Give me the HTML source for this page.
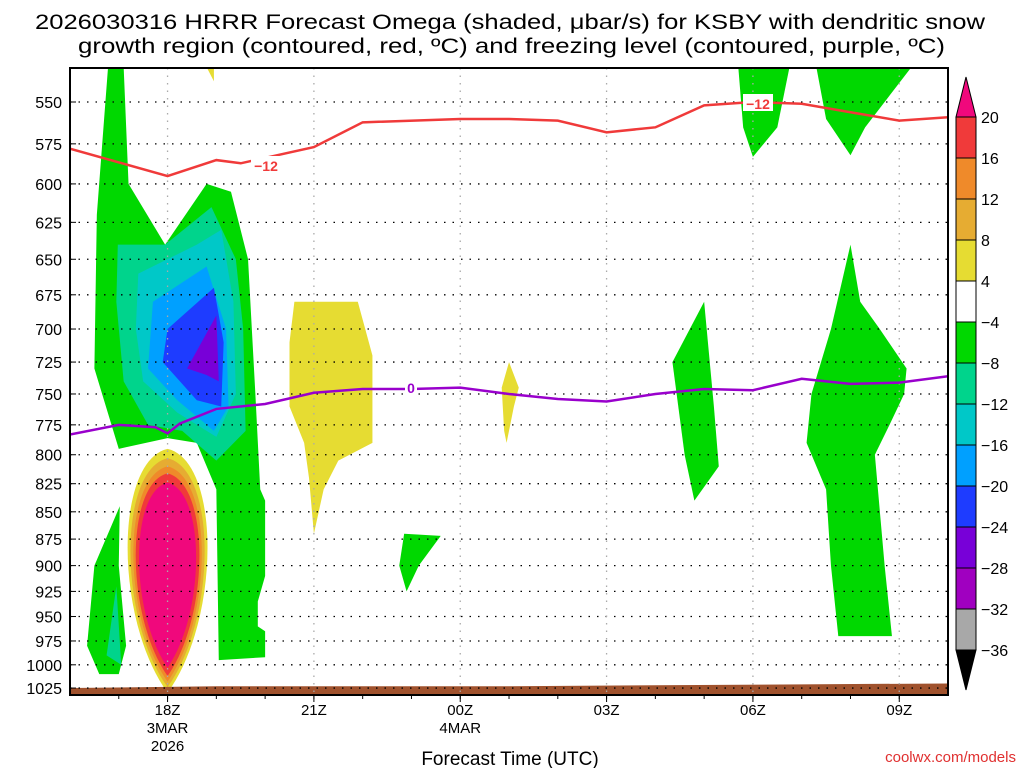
<!DOCTYPE html>
<html><head><meta charset="utf-8"><style>
body{margin:0;background:#fff;}
svg{display:block;font-family:"Liberation Sans",sans-serif;}
</style></head><body>
<svg id="c" width="1024" height="768" xmlns="http://www.w3.org/2000/svg">
<text x="35" y="29" textLength="950" lengthAdjust="spacingAndGlyphs" font-size="21">2026030316 HRRR Forecast Omega (shaded, μbar/s) for KSBY with dendritic snow</text>
<text x="78" y="53" textLength="867" lengthAdjust="spacingAndGlyphs" font-size="21">growth region (contoured, red, ºC) and freezing level (contoured, purple, ºC)</text>
<g id="fills"></g><g id="grid"></g><g id="lines"></g><g id="axes"></g><g id="cbar"></g>
<text x="510" y="765" text-anchor="middle" font-size="19">Forecast Time (UTC)</text>
<text x="1016" y="762" text-anchor="end" font-size="15" fill="#e03030">coolwx.com/models</text>
</svg>
<script>
// axes: hours since 16Z, pressure (log)
const pLevels=[550,575,600,625,650,675,700,725,750,775,800,825,850,875,900,925,950,975,1000,1025];
const xTickHours=[2,5,8,11,14,17];
const xTickLabels=[["18Z","3MAR","2026"],["21Z"],["00Z","4MAR"],["03Z"],["06Z"],["09Z"]];
const cbLevels=[20,16,12,8,4,-4,-8,-12,-16,-20,-24,-28,-32,-36];
const cbColors=["#f03a3a","#ef8a2a","#e6ac32","#e6dc32","#ffffff","#00d800","#00d48c","#00c8c8","#00a0ff","#1e3cff","#7800d8","#a000c0","#a8a8a8"];
const surfHours=[0,3,6,9,12,15,18];
const surfP=[1025,1023,1023,1023,1022,1021,1020];
const redHours=[0,2,3,3.5,5,6,8,9,10,11,12,13,14,15,16,17,18];
const redP=[578,595,585,587,577,562,560,560,561,568,565,552,550,551,556,561,559];
const purHours=[0,1,1.75,2,2.25,3,4,5,6,7,8,9,10,11,12,13,14,15,16,17,18];
const purP=[783,775,777,782,774,762,758,749,746,746,745,750,754,756,750,746,747,738,742,741,736];
// shaded omega regions: [color, hours[], pressures[]]
const regions=[
 ["#00d800",[0.78,1.1,1.2,1.95,2.8,3.3,3.65,3.8,3.9,4.0,4.0,3.85,3.85,4.0,4.0,3.05,3.0,2.6,2.0,1.0,0.5,0.55],[530,530,600,640,600,605,650,750,830,840,910,935,960,965,992,995,830,790,786,795,730,620]],
 ["#00d48c",[0.98,1.95,2.9,3.4,3.55,3.6,3.0,2.3,1.6,1.1,0.95],[640,640,615,650,700,780,805,780,775,740,680]],
 ["#00c8c8",[1.4,2.6,3.1,3.35,3.4,3.0,2.2,1.5,1.35],[660,640,630,680,750,785,765,740,700]],
 ["#00a0ff",[1.7,2.8,3.2,3.25,2.95,2.2,1.6],[680,655,700,760,780,755,730]],
 ["#1e3cff",[2.0,2.95,3.15,3.1,2.6,1.9],[700,670,710,760,755,725]],
 ["#7800d8",[2.4,3.0,3.05,2.8],[730,690,740,735]],
 ["#00d800",[1.02,1.0,1.15,1.0,0.6,0.35,0.5],[845,900,980,1010,1010,980,900]],
 ["#00d48c",[0.95,1.05,0.75],[920,1000,990]],
 ["#e6dc32",[4.6,5.9,6.2,6.2,5.5,5.2,5.0,4.9,4.8,4.5,4.5],[680,680,720,790,805,830,870,820,790,760,710]],
 ["#e6dc32",[2.8,2.95,2.95],[530,530,538]],
 ["#e6dc32",[9.0,8.85,8.9,8.95,9.1,9.2],[725,745,780,790,760,745]],
 ["#00d800",[6.85,7.6,7.15,6.9,6.75],[870,872,900,925,900]],
 ["#00d800",[13.0,13.2,13.3,12.8,12.6,12.35],[680,760,810,840,800,725]],
 ["#00d800",[13.7,14.75,14.5,14.0,13.8],[530,530,565,583,565]],
 ["#00d800",[15.3,17.25,16.3,16.0,15.5],[530,530,565,582,560]],
 ["#00d800",[16.0,15.6,15.2,15.1,15.5,15.6,15.75,16.85,16.7,16.5,16.8,17.1,17.15,16.6,16.2],[640,700,750,790,830,900,970,970,900,800,775,750,730,700,680]]
];
// positive omega lens (nested levels): color, half-width hours, top p, bottom p
const lensColors=["#e6dc32","#e6ac32","#ef8a2a","#f03a3a","#f0087c"];
const lensHalf=[0.84,0.78,0.72,0.67,0.6];
const lensTop=[795,803,810,816,824];
const lensBot=[1030,1024,1018,1012,1003];
const lensCenter=2.0;

const X0=70,X1=948,Y0=68,Y1=695;
const X=h=>X0+h*48.78;
const Y=p=>102+(Math.log(p)-Math.log(550))*941.4;
const NS="http://www.w3.org/2000/svg";
function mk(t,a,parent){const e=document.createElementNS(NS,t);for(const k in a)e.setAttribute(k,a[k]);document.getElementById(parent).appendChild(e);return e;}

const defs=document.createElementNS(NS,"defs");
defs.innerHTML='<clipPath id="pc"><rect x="70" y="68" width="878" height="627"/></clipPath>';
document.getElementById("c").prepend(defs);
document.getElementById("fills").setAttribute("clip-path","url(#pc)");
document.getElementById("lines").setAttribute("clip-path","url(#pc)");

regions.forEach((r,i)=>{
 const pts=r[1].map((h,j)=>X(h)+","+Y(r[2][j])).join(" ");
 const e=mk("polygon",{points:pts,fill:r[0]},"fills");
 
 
});
lensColors.forEach((col,i)=>{
 const t=Y(lensTop[i]),b=Y(lensBot[i]),cx=X(lensCenter),w=lensHalf[i]*48.78;
 const d=`M${cx},${t} C${cx+w*1.3},${t+(b-t)*0.05} ${cx+w*1.3},${b-(b-t)*0.3} ${cx},${b} C${cx-w*1.3},${b-(b-t)*0.3} ${cx-w*1.3},${t+(b-t)*0.05} ${cx},${t}Z`;
 const e=mk("path",{d:d,fill:col},"fills");
 
 
});
{let d=`M${X(0)},${Y1}`;surfHours.forEach((h,i)=>d+=` L${X(h)},${Y(surfP[i])}`);d+=` L${X(18)},${Y1}Z`;
 const e=mk("path",{d:d,fill:"#a0522d"},"fills");
 
 }

pLevels.forEach(p=>{
 const y=Y(p);
 const g=mk("line",{x1:X0,x2:X1,y1:y,y2:y,stroke:"#000","stroke-width":1.3,"stroke-dasharray":"1.5 7"},"grid");
 
 
 const t=mk("text",{x:62,y:y+6,"text-anchor":"end","font-size":16},"axes");
 t.textContent=p;
 
 
 const tk=mk("line",{x1:X0,x2:X0+6,y1:y,y2:y,stroke:"#000"},"axes");
 
 
});
xTickHours.forEach((h,i)=>{
 const x=X(h);
 const g=mk("line",{x1:x,x2:x,y1:Y0,y2:Y1,stroke:"#aaa","stroke-width":1.3,"stroke-dasharray":"1.5 6"},"grid");
 
 
 const tk=mk("line",{x1:x,x2:x,y1:Y1,y2:Y1+7,stroke:"#000"},"axes");
 
 
 xTickLabels[i].forEach((s,k)=>{
  const t=mk("text",{x:x,y:715+k*18,"text-anchor":"middle","font-size":15},"axes");
  t.textContent=s;
  
  
 });
});
for(let h=1;h<18;h++){const tk=mk("line",{x1:X(h),x2:X(h),y1:Y1,y2:Y1+4,stroke:"#000"},"axes");
 
 }
{const f=mk("rect",{x:X0,y:Y0,width:X1-X0,height:Y1-Y0,fill:"none",stroke:"#000","stroke-width":2},"axes");
 
 }

function line(hs,ps,col,name){
 const pts=hs.map((h,i)=>X(h)+","+Y(ps[i])).join(" ");
 const e=mk("polyline",{points:pts,fill:"none",stroke:col,"stroke-width":2.5},"lines");
 
 
}
line(redHours,redP,"#f03a3a","dgz-minus12-contour");
line(purHours,purP,"#9900cc","freezing-level-contour");
function lab(x,y,s,col,name){
 const r=mk("rect",{x:x-15,y:y-9,width:30,height:17,fill:"#fff"},"lines");
 
 
 const t=mk("text",{x:x,y:y+6,"text-anchor":"middle","font-size":14,"font-weight":"bold",fill:col},"lines");
 t.textContent=s;
 
 
}
lab(266,165,"−12","#f03a3a","contour-label-minus12-a");
lab(758,103,"−12","#f03a3a","contour-label-minus12-b");
{const r=mk("rect",{x:405,y:380,width:12,height:16,fill:"#fff"},"lines");
 
 
 const t=mk("text",{x:411,y:393,"text-anchor":"middle","font-size":14,"font-weight":"bold",fill:"#9900cc"},"lines");
 t.textContent="0";
 
 }

const cbIdx=i=>117+i*(650-117)/13;
cbColors.forEach((col,i)=>{
 const r=mk("rect",{x:956,y:cbIdx(i),width:20,height:(650-117)/13,fill:col,stroke:"#000","stroke-width":1},"cbar");
 
 
});
cbLevels.forEach((v,i)=>{
 const t=mk("text",{x:981,y:cbIdx(i)+6,"font-size":16},"cbar");
 t.textContent=v<0?"−"+(-v):v;
 
 
});
{const a=mk("polygon",{points:"956,117 976,117 966,77",fill:"#f0087c",stroke:"#000"},"cbar");
 
 
 const b=mk("polygon",{points:"956,650 976,650 966,690",fill:"#000",stroke:"#000"},"cbar");
 
 }
</script>
</body></html>
